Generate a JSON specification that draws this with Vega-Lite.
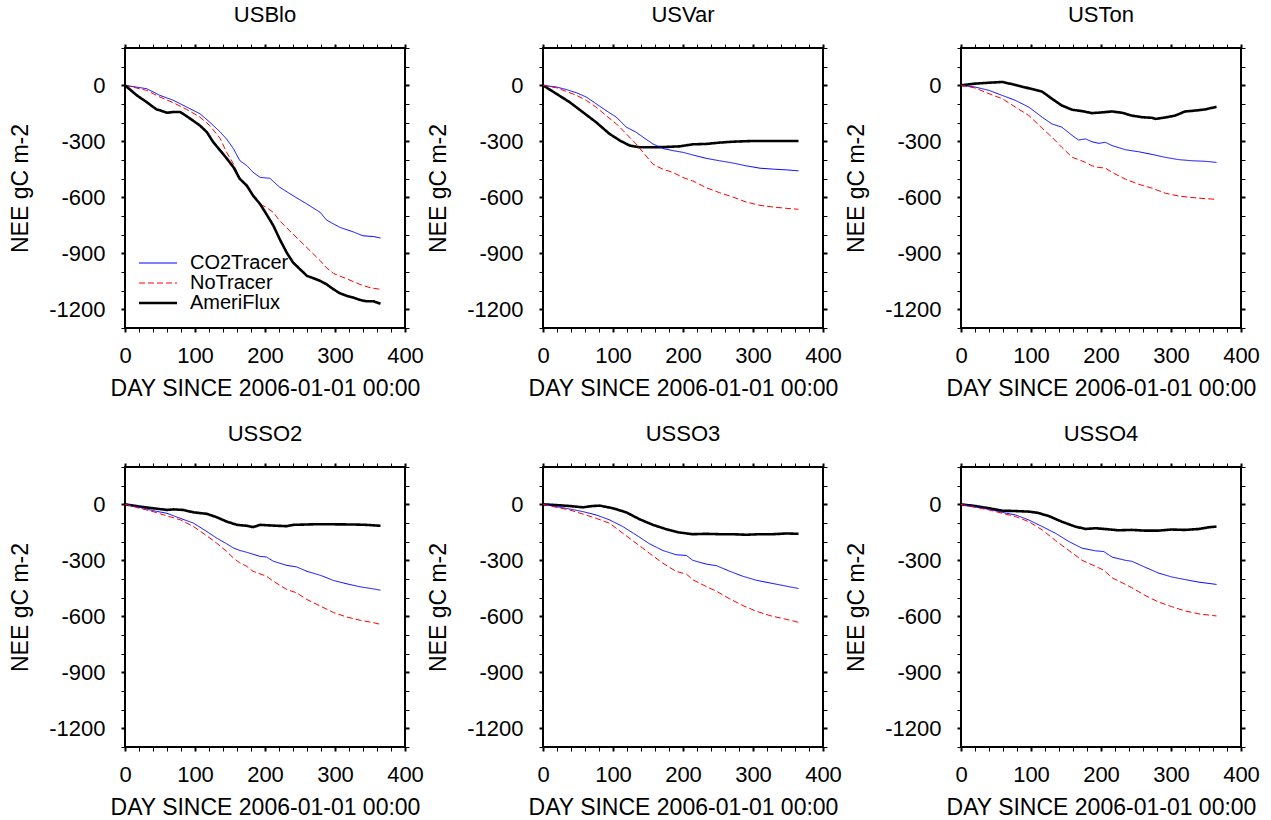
{
"$schema": "https://vega.github.io/schema/vega-lite/v6.json",
"background": "white",
"padding": {"left": 8, "top": 3, "right": 5, "bottom": 5},
"config": {
  "font": "Liberation Sans",
  "view": {"stroke": "black", "strokeWidth": 2},
  "axis": {"grid": false, "domain": false, "tickColor": "black", "labelColor": "black", "titleColor": "black", "labelFontSize": 22, "titleFontSize": 23, "titleFontWeight": "normal", "labelFont": "Liberation Sans", "titleFont": "Liberation Sans"},
  "legend": {"title": null, "orient": "none", "legendX": 9, "legendY": 205, "labelFontSize": 20, "labelFont": "Liberation Sans", "labelColor": "black", "symbolType": "M-1,0H6.6", "symbolSize": 100, "labelOffset": 36, "rowPadding": 0}
},
"data": {"values": [
{"site":"USBlo","series":"CO2Tracer","day":0,"nee":0},{"site":"USBlo","series":"CO2Tracer","day":31,"nee":-18},{"site":"USBlo","series":"CO2Tracer","day":50,"nee":-54},{"site":"USBlo","series":"CO2Tracer","day":69,"nee":-80},{"site":"USBlo","series":"CO2Tracer","day":88,"nee":-116},{"site":"USBlo","series":"CO2Tracer","day":107,"nee":-152},{"site":"USBlo","series":"CO2Tracer","day":121,"nee":-197},{"site":"USBlo","series":"CO2Tracer","day":136,"nee":-250},{"site":"USBlo","series":"CO2Tracer","day":145,"nee":-287},{"site":"USBlo","series":"CO2Tracer","day":155,"nee":-340},{"site":"USBlo","series":"CO2Tracer","day":164,"nee":-403},{"site":"USBlo","series":"CO2Tracer","day":174,"nee":-430},{"site":"USBlo","series":"CO2Tracer","day":183,"nee":-466},{"site":"USBlo","series":"CO2Tracer","day":193,"nee":-493},{"site":"USBlo","series":"CO2Tracer","day":207,"nee":-498},{"site":"USBlo","series":"CO2Tracer","day":221,"nee":-546},{"site":"USBlo","series":"CO2Tracer","day":240,"nee":-591},{"site":"USBlo","series":"CO2Tracer","day":260,"nee":-636},{"site":"USBlo","series":"CO2Tracer","day":279,"nee":-681},{"site":"USBlo","series":"CO2Tracer","day":288,"nee":-722},{"site":"USBlo","series":"CO2Tracer","day":307,"nee":-761},{"site":"USBlo","series":"CO2Tracer","day":326,"nee":-785},{"site":"USBlo","series":"CO2Tracer","day":340,"nee":-806},{"site":"USBlo","series":"CO2Tracer","day":355,"nee":-810},{"site":"USBlo","series":"CO2Tracer","day":365,"nee":-818},
{"site":"USBlo","series":"NoTracer","day":0,"nee":0},{"site":"USBlo","series":"NoTracer","day":31,"nee":-27},{"site":"USBlo","series":"NoTracer","day":50,"nee":-63},{"site":"USBlo","series":"NoTracer","day":69,"nee":-93},{"site":"USBlo","series":"NoTracer","day":88,"nee":-129},{"site":"USBlo","series":"NoTracer","day":107,"nee":-170},{"site":"USBlo","series":"NoTracer","day":121,"nee":-215},{"site":"USBlo","series":"NoTracer","day":136,"nee":-285},{"site":"USBlo","series":"NoTracer","day":145,"nee":-358},{"site":"USBlo","series":"NoTracer","day":155,"nee":-421},{"site":"USBlo","series":"NoTracer","day":164,"nee":-501},{"site":"USBlo","series":"NoTracer","day":174,"nee":-546},{"site":"USBlo","series":"NoTracer","day":183,"nee":-591},{"site":"USBlo","series":"NoTracer","day":193,"nee":-636},{"site":"USBlo","series":"NoTracer","day":202,"nee":-654},{"site":"USBlo","series":"NoTracer","day":212,"nee":-681},{"site":"USBlo","series":"NoTracer","day":221,"nee":-726},{"site":"USBlo","series":"NoTracer","day":240,"nee":-797},{"site":"USBlo","series":"NoTracer","day":260,"nee":-870},{"site":"USBlo","series":"NoTracer","day":279,"nee":-940},{"site":"USBlo","series":"NoTracer","day":288,"nee":-978},{"site":"USBlo","series":"NoTracer","day":298,"nee":-1008},{"site":"USBlo","series":"NoTracer","day":317,"nee":-1037},{"site":"USBlo","series":"NoTracer","day":336,"nee":-1067},{"site":"USBlo","series":"NoTracer","day":350,"nee":-1084},{"site":"USBlo","series":"NoTracer","day":365,"nee":-1093},
{"site":"USBlo","series":"AmeriFlux","day":0,"nee":0},{"site":"USBlo","series":"AmeriFlux","day":17,"nee":-54},{"site":"USBlo","series":"AmeriFlux","day":31,"nee":-90},{"site":"USBlo","series":"AmeriFlux","day":45,"nee":-129},{"site":"USBlo","series":"AmeriFlux","day":50,"nee":-134},{"site":"USBlo","series":"AmeriFlux","day":60,"nee":-147},{"site":"USBlo","series":"AmeriFlux","day":69,"nee":-143},{"site":"USBlo","series":"AmeriFlux","day":79,"nee":-143},{"site":"USBlo","series":"AmeriFlux","day":88,"nee":-165},{"site":"USBlo","series":"AmeriFlux","day":107,"nee":-215},{"site":"USBlo","series":"AmeriFlux","day":117,"nee":-251},{"site":"USBlo","series":"AmeriFlux","day":126,"nee":-304},{"site":"USBlo","series":"AmeriFlux","day":136,"nee":-349},{"site":"USBlo","series":"AmeriFlux","day":145,"nee":-390},{"site":"USBlo","series":"AmeriFlux","day":155,"nee":-439},{"site":"USBlo","series":"AmeriFlux","day":164,"nee":-501},{"site":"USBlo","series":"AmeriFlux","day":174,"nee":-537},{"site":"USBlo","series":"AmeriFlux","day":183,"nee":-591},{"site":"USBlo","series":"AmeriFlux","day":193,"nee":-636},{"site":"USBlo","series":"AmeriFlux","day":202,"nee":-690},{"site":"USBlo","series":"AmeriFlux","day":212,"nee":-752},{"site":"USBlo","series":"AmeriFlux","day":221,"nee":-824},{"site":"USBlo","series":"AmeriFlux","day":231,"nee":-896},{"site":"USBlo","series":"AmeriFlux","day":240,"nee":-949},{"site":"USBlo","series":"AmeriFlux","day":250,"nee":-985},{"site":"USBlo","series":"AmeriFlux","day":260,"nee":-1021},{"site":"USBlo","series":"AmeriFlux","day":269,"nee":-1033},{"site":"USBlo","series":"AmeriFlux","day":279,"nee":-1048},{"site":"USBlo","series":"AmeriFlux","day":288,"nee":-1066},{"site":"USBlo","series":"AmeriFlux","day":298,"nee":-1093},{"site":"USBlo","series":"AmeriFlux","day":307,"nee":-1114},{"site":"USBlo","series":"AmeriFlux","day":317,"nee":-1128},{"site":"USBlo","series":"AmeriFlux","day":326,"nee":-1137},{"site":"USBlo","series":"AmeriFlux","day":336,"nee":-1150},{"site":"USBlo","series":"AmeriFlux","day":345,"nee":-1157},{"site":"USBlo","series":"AmeriFlux","day":355,"nee":-1157},{"site":"USBlo","series":"AmeriFlux","day":365,"nee":-1170},
{"site":"USVar","series":"AmeriFlux","day":0,"nee":0},{"site":"USVar","series":"AmeriFlux","day":19,"nee":-45},{"site":"USVar","series":"AmeriFlux","day":38,"nee":-90},{"site":"USVar","series":"AmeriFlux","day":57,"nee":-144},{"site":"USVar","series":"AmeriFlux","day":76,"nee":-198},{"site":"USVar","series":"AmeriFlux","day":95,"nee":-260},{"site":"USVar","series":"AmeriFlux","day":110,"nee":-296},{"site":"USVar","series":"AmeriFlux","day":124,"nee":-323},{"site":"USVar","series":"AmeriFlux","day":138,"nee":-332},{"site":"USVar","series":"AmeriFlux","day":157,"nee":-332},{"site":"USVar","series":"AmeriFlux","day":176,"nee":-330},{"site":"USVar","series":"AmeriFlux","day":195,"nee":-327},{"site":"USVar","series":"AmeriFlux","day":214,"nee":-316},{"site":"USVar","series":"AmeriFlux","day":233,"nee":-314},{"site":"USVar","series":"AmeriFlux","day":252,"nee":-307},{"site":"USVar","series":"AmeriFlux","day":271,"nee":-302},{"site":"USVar","series":"AmeriFlux","day":300,"nee":-298},{"site":"USVar","series":"AmeriFlux","day":329,"nee":-298},{"site":"USVar","series":"AmeriFlux","day":365,"nee":-298},
{"site":"USVar","series":"CO2Tracer","day":0,"nee":0},{"site":"USVar","series":"CO2Tracer","day":19,"nee":-9},{"site":"USVar","series":"CO2Tracer","day":33,"nee":-22},{"site":"USVar","series":"CO2Tracer","day":48,"nee":-40},{"site":"USVar","series":"CO2Tracer","day":62,"nee":-63},{"site":"USVar","series":"CO2Tracer","day":76,"nee":-99},{"site":"USVar","series":"CO2Tracer","day":90,"nee":-135},{"site":"USVar","series":"CO2Tracer","day":105,"nee":-171},{"site":"USVar","series":"CO2Tracer","day":119,"nee":-224},{"site":"USVar","series":"CO2Tracer","day":133,"nee":-251},{"site":"USVar","series":"CO2Tracer","day":143,"nee":-278},{"site":"USVar","series":"CO2Tracer","day":157,"nee":-314},{"site":"USVar","series":"CO2Tracer","day":171,"nee":-338},{"site":"USVar","series":"CO2Tracer","day":186,"nee":-350},{"site":"USVar","series":"CO2Tracer","day":200,"nee":-359},{"site":"USVar","series":"CO2Tracer","day":214,"nee":-373},{"site":"USVar","series":"CO2Tracer","day":233,"nee":-391},{"site":"USVar","series":"CO2Tracer","day":252,"nee":-404},{"site":"USVar","series":"CO2Tracer","day":271,"nee":-416},{"site":"USVar","series":"CO2Tracer","day":290,"nee":-431},{"site":"USVar","series":"CO2Tracer","day":310,"nee":-444},{"site":"USVar","series":"CO2Tracer","day":329,"nee":-449},{"site":"USVar","series":"CO2Tracer","day":348,"nee":-453},{"site":"USVar","series":"CO2Tracer","day":365,"nee":-458},
{"site":"USVar","series":"NoTracer","day":0,"nee":0},{"site":"USVar","series":"NoTracer","day":19,"nee":-13},{"site":"USVar","series":"NoTracer","day":33,"nee":-32},{"site":"USVar","series":"NoTracer","day":48,"nee":-54},{"site":"USVar","series":"NoTracer","day":62,"nee":-81},{"site":"USVar","series":"NoTracer","day":76,"nee":-117},{"site":"USVar","series":"NoTracer","day":90,"nee":-162},{"site":"USVar","series":"NoTracer","day":105,"nee":-207},{"site":"USVar","series":"NoTracer","day":119,"nee":-260},{"site":"USVar","series":"NoTracer","day":133,"nee":-314},{"site":"USVar","series":"NoTracer","day":143,"nee":-359},{"site":"USVar","series":"NoTracer","day":157,"nee":-422},{"site":"USVar","series":"NoTracer","day":171,"nee":-449},{"site":"USVar","series":"NoTracer","day":186,"nee":-467},{"site":"USVar","series":"NoTracer","day":200,"nee":-494},{"site":"USVar","series":"NoTracer","day":214,"nee":-512},{"site":"USVar","series":"NoTracer","day":233,"nee":-548},{"site":"USVar","series":"NoTracer","day":252,"nee":-575},{"site":"USVar","series":"NoTracer","day":271,"nee":-598},{"site":"USVar","series":"NoTracer","day":290,"nee":-625},{"site":"USVar","series":"NoTracer","day":310,"nee":-643},{"site":"USVar","series":"NoTracer","day":329,"nee":-652},{"site":"USVar","series":"NoTracer","day":348,"nee":-659},{"site":"USVar","series":"NoTracer","day":365,"nee":-664},
{"site":"USTon","series":"AmeriFlux","day":0,"nee":0},{"site":"USTon","series":"AmeriFlux","day":20,"nee":9},{"site":"USTon","series":"AmeriFlux","day":40,"nee":14},{"site":"USTon","series":"AmeriFlux","day":59,"nee":18},{"site":"USTon","series":"AmeriFlux","day":78,"nee":2},{"site":"USTon","series":"AmeriFlux","day":97,"nee":-16},{"site":"USTon","series":"AmeriFlux","day":116,"nee":-34},{"site":"USTon","series":"AmeriFlux","day":130,"nee":-72},{"site":"USTon","series":"AmeriFlux","day":144,"nee":-108},{"site":"USTon","series":"AmeriFlux","day":159,"nee":-131},{"site":"USTon","series":"AmeriFlux","day":173,"nee":-138},{"site":"USTon","series":"AmeriFlux","day":187,"nee":-149},{"site":"USTon","series":"AmeriFlux","day":201,"nee":-145},{"site":"USTon","series":"AmeriFlux","day":216,"nee":-140},{"site":"USTon","series":"AmeriFlux","day":230,"nee":-147},{"site":"USTon","series":"AmeriFlux","day":244,"nee":-162},{"site":"USTon","series":"AmeriFlux","day":259,"nee":-171},{"site":"USTon","series":"AmeriFlux","day":273,"nee":-174},{"site":"USTon","series":"AmeriFlux","day":278,"nee":-180},{"site":"USTon","series":"AmeriFlux","day":292,"nee":-172},{"site":"USTon","series":"AmeriFlux","day":306,"nee":-162},{"site":"USTon","series":"AmeriFlux","day":320,"nee":-140},{"site":"USTon","series":"AmeriFlux","day":335,"nee":-135},{"site":"USTon","series":"AmeriFlux","day":349,"nee":-129},{"site":"USTon","series":"AmeriFlux","day":365,"nee":-115},
{"site":"USTon","series":"CO2Tracer","day":0,"nee":0},{"site":"USTon","series":"CO2Tracer","day":20,"nee":-9},{"site":"USTon","series":"CO2Tracer","day":40,"nee":-27},{"site":"USTon","series":"CO2Tracer","day":59,"nee":-54},{"site":"USTon","series":"CO2Tracer","day":78,"nee":-81},{"site":"USTon","series":"CO2Tracer","day":97,"nee":-117},{"site":"USTon","series":"CO2Tracer","day":116,"nee":-171},{"site":"USTon","series":"CO2Tracer","day":130,"nee":-207},{"site":"USTon","series":"CO2Tracer","day":144,"nee":-224},{"site":"USTon","series":"CO2Tracer","day":159,"nee":-269},{"site":"USTon","series":"CO2Tracer","day":168,"nee":-293},{"site":"USTon","series":"CO2Tracer","day":178,"nee":-287},{"site":"USTon","series":"CO2Tracer","day":187,"nee":-302},{"site":"USTon","series":"CO2Tracer","day":197,"nee":-311},{"site":"USTon","series":"CO2Tracer","day":206,"nee":-305},{"site":"USTon","series":"CO2Tracer","day":216,"nee":-323},{"site":"USTon","series":"CO2Tracer","day":235,"nee":-345},{"site":"USTon","series":"CO2Tracer","day":254,"nee":-356},{"site":"USTon","series":"CO2Tracer","day":273,"nee":-370},{"site":"USTon","series":"CO2Tracer","day":292,"nee":-386},{"site":"USTon","series":"CO2Tracer","day":311,"nee":-398},{"site":"USTon","series":"CO2Tracer","day":330,"nee":-404},{"site":"USTon","series":"CO2Tracer","day":349,"nee":-407},{"site":"USTon","series":"CO2Tracer","day":365,"nee":-413},
{"site":"USTon","series":"NoTracer","day":0,"nee":0},{"site":"USTon","series":"NoTracer","day":20,"nee":-14},{"site":"USTon","series":"NoTracer","day":40,"nee":-45},{"site":"USTon","series":"NoTracer","day":59,"nee":-72},{"site":"USTon","series":"NoTracer","day":78,"nee":-117},{"site":"USTon","series":"NoTracer","day":97,"nee":-162},{"site":"USTon","series":"NoTracer","day":116,"nee":-230},{"site":"USTon","series":"NoTracer","day":130,"nee":-278},{"site":"USTon","series":"NoTracer","day":144,"nee":-332},{"site":"USTon","series":"NoTracer","day":159,"nee":-386},{"site":"USTon","series":"NoTracer","day":168,"nee":-398},{"site":"USTon","series":"NoTracer","day":178,"nee":-413},{"site":"USTon","series":"NoTracer","day":187,"nee":-431},{"site":"USTon","series":"NoTracer","day":197,"nee":-440},{"site":"USTon","series":"NoTracer","day":206,"nee":-443},{"site":"USTon","series":"NoTracer","day":216,"nee":-467},{"site":"USTon","series":"NoTracer","day":235,"nee":-503},{"site":"USTon","series":"NoTracer","day":254,"nee":-530},{"site":"USTon","series":"NoTracer","day":273,"nee":-551},{"site":"USTon","series":"NoTracer","day":292,"nee":-578},{"site":"USTon","series":"NoTracer","day":311,"nee":-593},{"site":"USTon","series":"NoTracer","day":330,"nee":-601},{"site":"USTon","series":"NoTracer","day":349,"nee":-607},{"site":"USTon","series":"NoTracer","day":365,"nee":-611},
{"site":"USSO2","series":"AmeriFlux","day":0,"nee":0},{"site":"USSO2","series":"AmeriFlux","day":21,"nee":-12},{"site":"USSO2","series":"AmeriFlux","day":40,"nee":-21},{"site":"USSO2","series":"AmeriFlux","day":60,"nee":-30},{"site":"USSO2","series":"AmeriFlux","day":69,"nee":-27},{"site":"USSO2","series":"AmeriFlux","day":83,"nee":-30},{"site":"USSO2","series":"AmeriFlux","day":98,"nee":-43},{"site":"USSO2","series":"AmeriFlux","day":117,"nee":-51},{"site":"USSO2","series":"AmeriFlux","day":131,"nee":-69},{"site":"USSO2","series":"AmeriFlux","day":145,"nee":-92},{"site":"USSO2","series":"AmeriFlux","day":160,"nee":-110},{"site":"USSO2","series":"AmeriFlux","day":174,"nee":-115},{"site":"USSO2","series":"AmeriFlux","day":183,"nee":-122},{"site":"USSO2","series":"AmeriFlux","day":193,"nee":-110},{"site":"USSO2","series":"AmeriFlux","day":212,"nee":-114},{"site":"USSO2","series":"AmeriFlux","day":231,"nee":-117},{"site":"USSO2","series":"AmeriFlux","day":240,"nee":-110},{"site":"USSO2","series":"AmeriFlux","day":269,"nee":-107},{"site":"USSO2","series":"AmeriFlux","day":298,"nee":-107},{"site":"USSO2","series":"AmeriFlux","day":326,"nee":-108},{"site":"USSO2","series":"AmeriFlux","day":345,"nee":-110},{"site":"USSO2","series":"AmeriFlux","day":365,"nee":-115},
{"site":"USSO2","series":"CO2Tracer","day":0,"nee":0},{"site":"USSO2","series":"CO2Tracer","day":21,"nee":-16},{"site":"USSO2","series":"CO2Tracer","day":40,"nee":-34},{"site":"USSO2","series":"CO2Tracer","day":60,"nee":-48},{"site":"USSO2","series":"CO2Tracer","day":79,"nee":-75},{"site":"USSO2","series":"CO2Tracer","day":98,"nee":-101},{"site":"USSO2","series":"CO2Tracer","day":117,"nee":-146},{"site":"USSO2","series":"CO2Tracer","day":131,"nee":-181},{"site":"USSO2","series":"CO2Tracer","day":145,"nee":-211},{"site":"USSO2","series":"CO2Tracer","day":155,"nee":-234},{"site":"USSO2","series":"CO2Tracer","day":164,"nee":-247},{"site":"USSO2","series":"CO2Tracer","day":174,"nee":-257},{"site":"USSO2","series":"CO2Tracer","day":193,"nee":-279},{"site":"USSO2","series":"CO2Tracer","day":202,"nee":-282},{"site":"USSO2","series":"CO2Tracer","day":212,"nee":-305},{"site":"USSO2","series":"CO2Tracer","day":231,"nee":-327},{"site":"USSO2","series":"CO2Tracer","day":245,"nee":-335},{"site":"USSO2","series":"CO2Tracer","day":260,"nee":-359},{"site":"USSO2","series":"CO2Tracer","day":279,"nee":-380},{"site":"USSO2","series":"CO2Tracer","day":298,"nee":-408},{"site":"USSO2","series":"CO2Tracer","day":317,"nee":-426},{"site":"USSO2","series":"CO2Tracer","day":336,"nee":-442},{"site":"USSO2","series":"CO2Tracer","day":355,"nee":-453},{"site":"USSO2","series":"CO2Tracer","day":365,"nee":-460},
{"site":"USSO2","series":"NoTracer","day":0,"nee":0},{"site":"USSO2","series":"NoTracer","day":21,"nee":-21},{"site":"USSO2","series":"NoTracer","day":40,"nee":-39},{"site":"USSO2","series":"NoTracer","day":60,"nee":-62},{"site":"USSO2","series":"NoTracer","day":79,"nee":-83},{"site":"USSO2","series":"NoTracer","day":98,"nee":-119},{"site":"USSO2","series":"NoTracer","day":117,"nee":-169},{"site":"USSO2","series":"NoTracer","day":131,"nee":-208},{"site":"USSO2","series":"NoTracer","day":145,"nee":-252},{"site":"USSO2","series":"NoTracer","day":155,"nee":-288},{"site":"USSO2","series":"NoTracer","day":164,"nee":-314},{"site":"USSO2","series":"NoTracer","day":174,"nee":-332},{"site":"USSO2","series":"NoTracer","day":183,"nee":-359},{"site":"USSO2","series":"NoTracer","day":202,"nee":-385},{"site":"USSO2","series":"NoTracer","day":212,"nee":-412},{"site":"USSO2","series":"NoTracer","day":231,"nee":-456},{"site":"USSO2","series":"NoTracer","day":245,"nee":-474},{"site":"USSO2","series":"NoTracer","day":260,"nee":-510},{"site":"USSO2","series":"NoTracer","day":279,"nee":-545},{"site":"USSO2","series":"NoTracer","day":298,"nee":-580},{"site":"USSO2","series":"NoTracer","day":317,"nee":-604},{"site":"USSO2","series":"NoTracer","day":336,"nee":-621},{"site":"USSO2","series":"NoTracer","day":355,"nee":-634},{"site":"USSO2","series":"NoTracer","day":365,"nee":-643},
{"site":"USSO3","series":"AmeriFlux","day":0,"nee":0},{"site":"USSO3","series":"AmeriFlux","day":19,"nee":-4},{"site":"USSO3","series":"AmeriFlux","day":38,"nee":-9},{"site":"USSO3","series":"AmeriFlux","day":57,"nee":-16},{"site":"USSO3","series":"AmeriFlux","day":71,"nee":-9},{"site":"USSO3","series":"AmeriFlux","day":81,"nee":-7},{"site":"USSO3","series":"AmeriFlux","day":100,"nee":-21},{"site":"USSO3","series":"AmeriFlux","day":119,"nee":-43},{"site":"USSO3","series":"AmeriFlux","day":138,"nee":-80},{"site":"USSO3","series":"AmeriFlux","day":157,"nee":-110},{"site":"USSO3","series":"AmeriFlux","day":176,"nee":-133},{"site":"USSO3","series":"AmeriFlux","day":195,"nee":-151},{"site":"USSO3","series":"AmeriFlux","day":214,"nee":-160},{"site":"USSO3","series":"AmeriFlux","day":233,"nee":-158},{"site":"USSO3","series":"AmeriFlux","day":252,"nee":-160},{"site":"USSO3","series":"AmeriFlux","day":271,"nee":-160},{"site":"USSO3","series":"AmeriFlux","day":290,"nee":-163},{"site":"USSO3","series":"AmeriFlux","day":310,"nee":-160},{"site":"USSO3","series":"AmeriFlux","day":329,"nee":-160},{"site":"USSO3","series":"AmeriFlux","day":348,"nee":-156},{"site":"USSO3","series":"AmeriFlux","day":365,"nee":-158},
{"site":"USSO3","series":"CO2Tracer","day":0,"nee":0},{"site":"USSO3","series":"CO2Tracer","day":19,"nee":-12},{"site":"USSO3","series":"CO2Tracer","day":38,"nee":-25},{"site":"USSO3","series":"CO2Tracer","day":57,"nee":-39},{"site":"USSO3","series":"CO2Tracer","day":76,"nee":-57},{"site":"USSO3","series":"CO2Tracer","day":95,"nee":-83},{"site":"USSO3","series":"CO2Tracer","day":114,"nee":-119},{"site":"USSO3","series":"CO2Tracer","day":133,"nee":-164},{"site":"USSO3","series":"CO2Tracer","day":152,"nee":-211},{"site":"USSO3","series":"CO2Tracer","day":171,"nee":-247},{"site":"USSO3","series":"CO2Tracer","day":190,"nee":-270},{"site":"USSO3","series":"CO2Tracer","day":205,"nee":-274},{"site":"USSO3","series":"CO2Tracer","day":214,"nee":-300},{"site":"USSO3","series":"CO2Tracer","day":233,"nee":-320},{"site":"USSO3","series":"CO2Tracer","day":248,"nee":-329},{"site":"USSO3","series":"CO2Tracer","day":267,"nee":-359},{"site":"USSO3","series":"CO2Tracer","day":286,"nee":-386},{"site":"USSO3","series":"CO2Tracer","day":305,"nee":-407},{"site":"USSO3","series":"CO2Tracer","day":324,"nee":-421},{"site":"USSO3","series":"CO2Tracer","day":343,"nee":-435},{"site":"USSO3","series":"CO2Tracer","day":365,"nee":-451},
{"site":"USSO3","series":"NoTracer","day":0,"nee":0},{"site":"USSO3","series":"NoTracer","day":19,"nee":-16},{"site":"USSO3","series":"NoTracer","day":38,"nee":-30},{"site":"USSO3","series":"NoTracer","day":57,"nee":-52},{"site":"USSO3","series":"NoTracer","day":76,"nee":-75},{"site":"USSO3","series":"NoTracer","day":95,"nee":-101},{"site":"USSO3","series":"NoTracer","day":114,"nee":-155},{"site":"USSO3","series":"NoTracer","day":133,"nee":-208},{"site":"USSO3","series":"NoTracer","day":152,"nee":-262},{"site":"USSO3","series":"NoTracer","day":171,"nee":-315},{"site":"USSO3","series":"NoTracer","day":190,"nee":-359},{"site":"USSO3","series":"NoTracer","day":205,"nee":-374},{"site":"USSO3","series":"NoTracer","day":214,"nee":-404},{"site":"USSO3","series":"NoTracer","day":233,"nee":-440},{"site":"USSO3","series":"NoTracer","day":248,"nee":-466},{"site":"USSO3","series":"NoTracer","day":267,"nee":-507},{"site":"USSO3","series":"NoTracer","day":286,"nee":-543},{"site":"USSO3","series":"NoTracer","day":305,"nee":-573},{"site":"USSO3","series":"NoTracer","day":324,"nee":-596},{"site":"USSO3","series":"NoTracer","day":343,"nee":-612},{"site":"USSO3","series":"NoTracer","day":365,"nee":-632},
{"site":"USSO4","series":"AmeriFlux","day":0,"nee":0},{"site":"USSO4","series":"AmeriFlux","day":20,"nee":-9},{"site":"USSO4","series":"AmeriFlux","day":40,"nee":-21},{"site":"USSO4","series":"AmeriFlux","day":59,"nee":-34},{"site":"USSO4","series":"AmeriFlux","day":78,"nee":-36},{"site":"USSO4","series":"AmeriFlux","day":97,"nee":-39},{"site":"USSO4","series":"AmeriFlux","day":109,"nee":-45},{"site":"USSO4","series":"AmeriFlux","day":125,"nee":-62},{"site":"USSO4","series":"AmeriFlux","day":144,"nee":-93},{"site":"USSO4","series":"AmeriFlux","day":163,"nee":-119},{"site":"USSO4","series":"AmeriFlux","day":178,"nee":-132},{"site":"USSO4","series":"AmeriFlux","day":192,"nee":-128},{"site":"USSO4","series":"AmeriFlux","day":211,"nee":-134},{"site":"USSO4","series":"AmeriFlux","day":225,"nee":-139},{"site":"USSO4","series":"AmeriFlux","day":244,"nee":-137},{"site":"USSO4","series":"AmeriFlux","day":263,"nee":-141},{"site":"USSO4","series":"AmeriFlux","day":282,"nee":-141},{"site":"USSO4","series":"AmeriFlux","day":301,"nee":-135},{"site":"USSO4","series":"AmeriFlux","day":320,"nee":-137},{"site":"USSO4","series":"AmeriFlux","day":340,"nee":-132},{"site":"USSO4","series":"AmeriFlux","day":354,"nee":-123},{"site":"USSO4","series":"AmeriFlux","day":365,"nee":-119},
{"site":"USSO4","series":"CO2Tracer","day":0,"nee":0},{"site":"USSO4","series":"CO2Tracer","day":20,"nee":-12},{"site":"USSO4","series":"CO2Tracer","day":40,"nee":-27},{"site":"USSO4","series":"CO2Tracer","day":59,"nee":-43},{"site":"USSO4","series":"CO2Tracer","day":78,"nee":-57},{"site":"USSO4","series":"CO2Tracer","day":97,"nee":-84},{"site":"USSO4","series":"CO2Tracer","day":116,"nee":-119},{"site":"USSO4","series":"CO2Tracer","day":135,"nee":-155},{"site":"USSO4","series":"CO2Tracer","day":154,"nee":-199},{"site":"USSO4","series":"CO2Tracer","day":173,"nee":-235},{"site":"USSO4","series":"CO2Tracer","day":192,"nee":-249},{"site":"USSO4","series":"CO2Tracer","day":204,"nee":-253},{"site":"USSO4","series":"CO2Tracer","day":216,"nee":-283},{"site":"USSO4","series":"CO2Tracer","day":235,"nee":-300},{"site":"USSO4","series":"CO2Tracer","day":244,"nee":-305},{"site":"USSO4","series":"CO2Tracer","day":263,"nee":-337},{"site":"USSO4","series":"CO2Tracer","day":282,"nee":-368},{"site":"USSO4","series":"CO2Tracer","day":301,"nee":-389},{"site":"USSO4","series":"CO2Tracer","day":320,"nee":-403},{"site":"USSO4","series":"CO2Tracer","day":340,"nee":-417},{"site":"USSO4","series":"CO2Tracer","day":365,"nee":-429},
{"site":"USSO4","series":"NoTracer","day":0,"nee":0},{"site":"USSO4","series":"NoTracer","day":20,"nee":-16},{"site":"USSO4","series":"NoTracer","day":40,"nee":-30},{"site":"USSO4","series":"NoTracer","day":59,"nee":-48},{"site":"USSO4","series":"NoTracer","day":78,"nee":-66},{"site":"USSO4","series":"NoTracer","day":97,"nee":-93},{"site":"USSO4","series":"NoTracer","day":116,"nee":-137},{"site":"USSO4","series":"NoTracer","day":135,"nee":-194},{"site":"USSO4","series":"NoTracer","day":154,"nee":-247},{"site":"USSO4","series":"NoTracer","day":173,"nee":-300},{"site":"USSO4","series":"NoTracer","day":192,"nee":-332},{"site":"USSO4","series":"NoTracer","day":204,"nee":-353},{"site":"USSO4","series":"NoTracer","day":216,"nee":-394},{"site":"USSO4","series":"NoTracer","day":235,"nee":-429},{"site":"USSO4","series":"NoTracer","day":244,"nee":-447},{"site":"USSO4","series":"NoTracer","day":263,"nee":-488},{"site":"USSO4","series":"NoTracer","day":282,"nee":-523},{"site":"USSO4","series":"NoTracer","day":301,"nee":-548},{"site":"USSO4","series":"NoTracer","day":320,"nee":-571},{"site":"USSO4","series":"NoTracer","day":340,"nee":-587},{"site":"USSO4","series":"NoTracer","day":365,"nee":-598}
]},
"facet": {"field": "site", "type": "nominal", "sort": ["USBlo","USVar","USTon","USSO2","USSO3","USSO4"], "header": {"title": null, "labelFontSize": 22, "labelFont": "Liberation Sans", "labelColor": "black", "labelPadding": 10}},
"columns": 3,
"spacing": {"row": 139, "column": 138},
"bounds": "flush",
"resolve": {"axis": {"x": "independent", "y": "independent"}},
"spec": {
  "width": 280,
  "height": 280,
  "layer": [
    {
      "mark": {"type": "line", "clip": true},
      "encoding": {
        "x": {"field": "day", "type": "quantitative", "scale": {"domain": [0, 400], "nice": false, "zero": false},
              "axis": {"orient": "bottom", "title": "DAY SINCE 2006-01-01 00:00", "values": [0,20,40,60,80,100,120,140,160,180,200,220,240,260,280,300,320,340,360,380,400], "labelExpr": "datum.value % 100 === 0 ? '' + datum.value : ''", "tickSize": 4, "tickWidth": {"condition": {"test": "datum.value % 100 === 0", "value": 2}, "value": 1}, "labelPadding": 13, "titlePadding": 11, "labelFlush": false, "labelOverlap": false}},
        "y": {"field": "nee", "type": "quantitative", "scale": {"domain": [-1300, 200], "nice": false, "zero": false},
              "axis": {"orient": "left", "title": "NEE gC m-2", "values": [-1300,-1200,-1100,-1000,-900,-800,-700,-600,-500,-400,-300,-200,-100,0,100,200], "labelExpr": "datum.value % 300 === 0 ? '' + datum.value : ''", "tickSize": 4, "tickWidth": {"condition": {"test": "datum.value % 300 === 0", "value": 2}, "value": 1}, "labelPadding": 16, "titlePadding": 16, "labelFlush": false, "labelOverlap": false}},
        "color": {"field": "series", "type": "nominal", "scale": {"domain": ["CO2Tracer","NoTracer","AmeriFlux"], "range": ["#0000ff","#ff0000","#000000"]},
                  "legend": {"encode": {"symbols": {"update": {"stroke": {"scale": "color", "field": "value"}, "strokeDash": {"signal": "datum.value === 'NoTracer' ? [6,3] : [1,0]"}, "strokeWidth": {"signal": "datum.value === 'AmeriFlux' ? 2.6 : 1"}}}}}},
        "strokeDash": {"field": "series", "type": "nominal", "scale": {"domain": ["CO2Tracer","NoTracer","AmeriFlux"], "range": [[1,0],[6,3],[1,0]]}, "legend": null},
        "strokeWidth": {"condition": {"test": "datum.series === 'AmeriFlux'", "value": 2.6}, "value": 1}
      }
    },
    {
      "mark": {"type": "point", "opacity": 0},
      "encoding": {
        "x": {"field": "day", "type": "quantitative", "axis": {"orient": "top", "title": null, "labels": false, "values": [0,20,40,60,80,100,120,140,160,180,200,220,240,260,280,300,320,340,360,380,400], "tickSize": 4, "tickWidth": {"condition": {"test": "datum.value % 100 === 0", "value": 2}, "value": 1}}},
        "y": {"field": "nee", "type": "quantitative", "axis": {"orient": "right", "title": null, "labels": false, "values": [-1300,-1200,-1100,-1000,-900,-800,-700,-600,-500,-400,-300,-200,-100,0,100,200], "tickSize": 4, "tickWidth": {"condition": {"test": "datum.value % 300 === 0", "value": 2}, "value": 1}}}
      }
    }
  ],
  "resolve": {"axis": {"x": "independent", "y": "independent"}}
}
}
